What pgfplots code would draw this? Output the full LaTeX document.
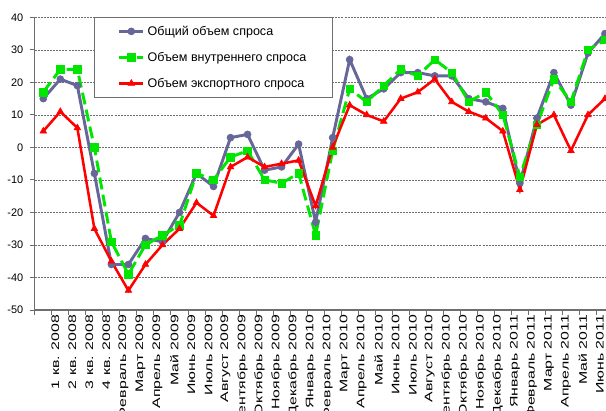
\documentclass[border=0pt]{standalone}
\usepackage{pgfplots}
\pgfplotsset{compat=1.18}
\usepackage{graphicx}
\usepackage{fontspec}
\setmainfont{Liberation Sans}
\definecolor{cblue}{RGB}{102,102,153}
\definecolor{cgreen}{RGB}{0,230,0}
\definecolor{cred}{RGB}{255,0,0}
\definecolor{cgrid}{RGB}{110,110,110}
\newcommand\SL[1]{\scalebox{1.45}[1]{#1}}
\begin{document}
\begin{tikzpicture}
\begin{axis}[
  x=12.765pt, y=2.439pt,
  xmin=-0.5, xmax=33.5, ymin=-50, ymax=40,
  axis x line*=bottom, axis y line*=left,
  axis line style={cgrid, line width=0.9pt, -},
  ytick={-50,-40,...,40},
  ymajorgrids, grid style={cgrid, line width=0.5pt, dash pattern=on 1.5pt off 0.8pt},
  xtick={0,...,33},
  major x tick style={draw=none},
  minor xtick={-0.5,0.5,...,33.5},
  minor x tick style={cgrid, line width=0.7pt},
  minor tick length=3.5pt,
  major tick length=3.5pt,
  y tick style={cgrid, line width=0.7pt},
  tick align=outside,
  xticklabels={\SL{1 кв. 2008}, \SL{2 кв. 2008}, \SL{3 кв. 2008}, \SL{4 кв. 2008}, \SL{Февраль 2009}, \SL{Март 2009}, \SL{Апрель 2009}, \SL{Май 2009}, \SL{Июнь 2009}, \SL{Июль 2009}, \SL{Август 2009}, \SL{Сентябрь 2009}, \SL{Октябрь 2009}, \SL{Ноябрь 2009}, \SL{Декабрь 2009}, \SL{Январь 2010}, \SL{Февраль 2010}, \SL{Март 2010}, \SL{Апрель 2010}, \SL{Май 2010}, \SL{Июнь 2010}, \SL{Июль 2010}, \SL{Август 2010}, \SL{Сентябрь 2010}, \SL{Октябрь 2010}, \SL{Ноябрь 2010}, \SL{Декабрь 2010}, \SL{Январь 2011}, \SL{Февраль 2011}, \SL{Март 2011}, \SL{Апрель 2011}, \SL{Май 2011}, \SL{Июнь 2011}, \SL{Июль 2011}},
  xticklabel style={rotate=90, anchor=east, font=\fontsize{8.2}{9}\selectfont, inner sep=0pt},
  yticklabel style={font=\fontsize{8.2}{9}\selectfont, inner sep=0pt},
  x tick label style={yshift=-9pt},
  y tick label style={xshift=-5pt},
  /pgf/number format/assume math mode=true,
  legend style={at={(rel axis cs:0.1023,1)}, anchor=north west, draw=cgrid, line width=0.6pt, fill=white,
    font=\fontsize{9.4}{11}\selectfont, inner xsep=17.5pt, inner ysep=4pt, row sep=7pt,
    cells={anchor=west, text height=7pt, text depth=1pt}},
  legend image code/.code={\draw[mark repeat=2,mark phase=2,#1] plot coordinates {(0cm,0cm) (0.32cm,0cm) (0.64cm,0cm)};},
  clip=false,
]
\addplot[cblue, line width=2.2pt, mark=*, mark size=2.6pt, mark options={solid, fill=cblue, draw=cblue, line width=0.5pt}] coordinates {
(0,15) (1,21) (2,19) (3,-8) (4,-36) (5,-36) (6,-28) (7,-29) (8,-20) (9,-8) (10,-12) (11,3) (12,4) (13,-7) (14,-6) (15,1) (16,-23) (17,3) (18,27) (19,15) (20,18) (21,23) (22,23) (23,22) (24,22) (25,15) (26,14) (27,12) (28,-11) (29,9) (30,23) (31,13) (32,29) (33,35)};
\addlegendentry{Общий объем спроса}
\addplot[cgreen, line width=2.2pt, dash pattern=on 9pt off 4pt, mark=square*, mark size=2.8pt, mark options={solid, fill=cgreen, draw=cgreen, line width=0.5pt}] coordinates {
(0,17) (1,24) (2,24) (3,0) (4,-29) (5,-39) (6,-30) (7,-27) (8,-24) (9,-8) (10,-10) (11,-3) (12,-1) (13,-10) (14,-11) (15,-8) (16,-27) (17,-1) (18,18) (19,14) (20,19) (21,24) (22,22) (23,27) (24,23) (25,14) (26,17) (27,10) (28,-9) (29,7) (30,21) (31,14) (32,30) (33,33)};
\addlegendentry{Объем внутреннего спроса}
\addplot[cred, line width=1.9pt, mark=triangle*, mark size=2.8pt, mark options={solid, fill=cred, draw=cred, line width=0.5pt}] coordinates {
(0,5) (1,11) (2,6) (3,-25) (4,-35) (5,-44) (6,-36) (7,-30) (8,-25) (9,-17) (10,-21) (11,-6) (12,-3) (13,-6) (14,-5) (15,-4) (16,-18) (17,0) (18,13) (19,10) (20,8) (21,15) (22,17) (23,21) (24,14) (25,11) (26,9) (27,5) (28,-13) (29,7) (30,10) (31,-1) (32,10) (33,15)};
\addlegendentry{Объем экспортного спроса}
\path (rel axis cs:0,1) coordinate (tl);
\end{axis}
\pgfresetboundingbox
\useasboundingbox ([xshift=-26.1pt,yshift=13pt]tl) rectangle ([xshift=428.4pt,yshift=-294.5pt]tl);
\end{tikzpicture}
\end{document}
